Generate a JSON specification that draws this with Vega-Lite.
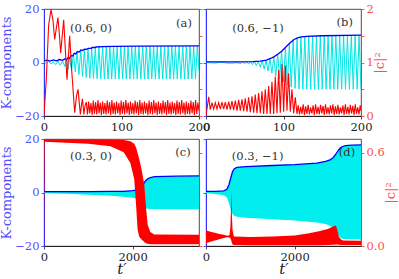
{
"$schema":"https://vega.github.io/schema/vega-lite/v6.json",
"padding":{"left":0,"top":2,"right":1,"bottom":0},
"columns":2,
"spacing":{"row":23,"column":7},
"bounds":"flush",
"datasets":{
"aB":[{"t":0,"v":0.6},{"t":4,"v":0.9},{"t":8,"v":0.5},{"t":12,"v":1.0},{"t":16,"v":0.6},{"t":20,"v":1.1},{"t":24,"v":0.8},{"t":27,"v":1.4},{"t":29,"v":1.0},{"t":31,"v":1.8},{"t":33,"v":1.6},{"t":35,"v":2.6},{"t":37,"v":2.4},{"t":39,"v":3.4},{"t":41,"v":3.2},{"t":43,"v":4.1},{"t":45.5,"v":3.9},{"t":47.5,"v":4.7},{"t":50,"v":4.5},{"t":52,"v":5.0},{"t":55,"v":4.9},{"t":57,"v":5.3},{"t":61,"v":5.3},{"t":62,"v":5.6},{"t":66,"v":5.6},{"t":67,"v":5.8},{"t":75,"v":5.9},{"t":90,"v":6.0},{"t":120,"v":6.1},{"t":200,"v":6.2}],
"aC":[{"t":0,"v":0.2},{"t":3,"v":-0.3},{"t":6,"v":0.4},{"t":9,"v":-0.5},{"t":12,"v":0.3},{"t":15,"v":-0.8},{"t":18,"v":0.5},{"t":21,"v":-1.0},{"t":24,"v":0.6},{"t":27,"v":-1.5},{"t":29,"v":1.0},{"t":31,"v":-2.5},{"t":33,"v":1.8},{"t":35.5,"v":-3.0},{"t":38,"v":3.3},{"t":40.35,"v":-3.5},{"t":42.7,"v":4.0},{"t":45.05,"v":-4.5},{"t":47.4,"v":4.6},{"t":49.75,"v":-5.2},{"t":52.1,"v":4.9},{"t":54.45,"v":-5.6},{"t":56.8,"v":5.2},{"t":59.15,"v":-5.9},{"t":61.5,"v":5.4},{"t":63.85,"v":-6.0},{"t":66.2,"v":5.6},{"t":68.55,"v":-6.1},{"t":70.9,"v":5.8},{"t":73.25,"v":-6.2},{"t":75.6,"v":5.9},{"t":77.95,"v":-6.2},{"t":80.3,"v":5.9},{"t":82.65,"v":-6.2},{"t":85,"v":6.0},{"t":87.35,"v":-6.2},{"t":89.7,"v":6.0},{"t":92.05,"v":-6.2},{"t":94.4,"v":6.0},{"t":96.75,"v":-6.2},{"t":99.1,"v":6.0},{"t":101.45,"v":-6.2},{"t":103.8,"v":6.0},{"t":106.15,"v":-6.2},{"t":108.5,"v":6.0},{"t":110.85,"v":-6.2},{"t":113.2,"v":6.0},{"t":115.55,"v":-6.2},{"t":117.9,"v":6.0},{"t":120.25,"v":-6.2},{"t":122.6,"v":6.1},{"t":124.95,"v":-6.2},{"t":127.3,"v":6.1},{"t":129.65,"v":-6.2},{"t":132,"v":6.1},{"t":134.35,"v":-6.2},{"t":136.7,"v":6.1},{"t":139.05,"v":-6.2},{"t":141.4,"v":6.1},{"t":143.75,"v":-6.2},{"t":146.1,"v":6.1},{"t":148.45,"v":-6.2},{"t":150.8,"v":6.1},{"t":153.15,"v":-6.2},{"t":155.5,"v":6.1},{"t":157.85,"v":-6.2},{"t":160.2,"v":6.1},{"t":162.55,"v":-6.2},{"t":164.9,"v":6.1},{"t":167.25,"v":-6.2},{"t":169.6,"v":6.1},{"t":171.95,"v":-6.2},{"t":174.3,"v":6.1},{"t":176.65,"v":-6.2},{"t":179,"v":6.1},{"t":181.35,"v":-6.2},{"t":183.7,"v":6.1},{"t":186.05,"v":-6.2},{"t":188.4,"v":6.1},{"t":190.75,"v":-6.2},{"t":193.1,"v":6.1},{"t":195.45,"v":-6.2},{"t":197.8,"v":6.1},{"t":200,"v":-3}],
"aR":[{"t":0,"v":0},{"t":3,"v":0.7},{"t":6,"v":1.7},{"t":9,"v":1.99},{"t":11.5,"v":1.8},{"t":13.8,"v":1.43},{"t":16,"v":1.65},{"t":18,"v":1.84},{"t":20,"v":1.5},{"t":21.5,"v":1.18},{"t":23.5,"v":1.5},{"t":25.4,"v":1.8},{"t":27.5,"v":1.25},{"t":29.7,"v":0.68},{"t":31.5,"v":1.1},{"t":33.1,"v":1.5},{"t":36,"v":0.8},{"t":39.6,"v":0.06},{"t":42,"v":0.38},{"t":43.9,"v":0.5},{"t":45.5,"v":0.25},{"t":46.9,"v":0.03},{"t":48.5,"v":0.22},{"t":49.6,"v":0.32},{"t":51.5,"v":0.03},{"t":53,"v":0.2},{"t":54.6,"v":0.26},
{"t":56.1,"v":0.03},{"t":57.6,"v":0.27},{"t":59.1,"v":0.05},{"t":60.6,"v":0.24},{"t":62.1,"v":0.02},{"t":63.6,"v":0.29},{"t":65.1,"v":0.04},{"t":66.6,"v":0.26},{"t":68.1,"v":0.03},{"t":69.6,"v":0.3},{"t":71.1,"v":0.05},{"t":72.6,"v":0.25},{"t":74.1,"v":0.02},{"t":75.6,"v":0.27},{"t":77.1,"v":0.04},{"t":78.6,"v":0.24},{"t":80.1,"v":0.03},{"t":81.6,"v":0.29},{"t":83.1,"v":0.05},{"t":84.6,"v":0.26},{"t":86.1,"v":0.02},{"t":87.6,"v":0.3},{"t":89.1,"v":0.04},{"t":90.6,"v":0.25},{"t":92.1,"v":0.03},{"t":93.6,"v":0.27},{"t":95.1,"v":0.05},{"t":96.6,"v":0.24},{"t":98.1,"v":0.02},{"t":99.6,"v":0.29},{"t":101.1,"v":0.04},{"t":102.6,"v":0.26},{"t":104.1,"v":0.03},{"t":105.6,"v":0.3},{"t":107.1,"v":0.05},{"t":108.6,"v":0.25},{"t":110.1,"v":0.02},{"t":111.6,"v":0.27},{"t":113.1,"v":0.04},{"t":114.6,"v":0.24},{"t":116.1,"v":0.03},{"t":117.6,"v":0.29},{"t":119.1,"v":0.05},{"t":120.6,"v":0.26},{"t":122.1,"v":0.02},{"t":123.6,"v":0.3},{"t":125.1,"v":0.04},{"t":126.6,"v":0.25},{"t":128.1,"v":0.03},{"t":129.6,"v":0.27},{"t":131.1,"v":0.05},{"t":132.6,"v":0.24},{"t":134.1,"v":0.02},{"t":135.6,"v":0.29},{"t":137.1,"v":0.04},{"t":138.6,"v":0.26},{"t":140.1,"v":0.03},{"t":141.6,"v":0.3},{"t":143.1,"v":0.05},{"t":144.6,"v":0.25},{"t":146.1,"v":0.02},{"t":147.6,"v":0.27},{"t":149.1,"v":0.04},{"t":150.6,"v":0.24},{"t":152.1,"v":0.03},{"t":153.6,"v":0.29},{"t":155.1,"v":0.05},{"t":156.6,"v":0.26},{"t":158.1,"v":0.02},{"t":159.6,"v":0.3},{"t":161.1,"v":0.04},{"t":162.6,"v":0.25},{"t":164.1,"v":0.03},{"t":165.6,"v":0.27},{"t":167.1,"v":0.05},{"t":168.6,"v":0.24},{"t":170.1,"v":0.02},{"t":171.6,"v":0.29},{"t":173.1,"v":0.04},{"t":174.6,"v":0.26},{"t":176.1,"v":0.03},{"t":177.6,"v":0.3},{"t":179.1,"v":0.05},{"t":180.6,"v":0.25},{"t":182.1,"v":0.02},{"t":183.6,"v":0.27},{"t":185.1,"v":0.04},{"t":186.6,"v":0.24},{"t":188.1,"v":0.03},{"t":189.6,"v":0.29},{"t":191.1,"v":0.05},{"t":192.6,"v":0.26},{"t":194.1,"v":0.02},{"t":195.6,"v":0.3},{"t":197.1,"v":0.04},{"t":198.6,"v":0.25},{"t":200,"v":0.1}],
"aT":[{"t":180.6,"v":14.4,"s":"(a)"},{"t":60.6,"v":12.5,"s":"(0.6, 0)"}],
"bB":[{"t":0,"v":0.2},{"t":40,"v":0.25},{"t":60,"v":0.35},{"t":70,"v":0.55},{"t":78,"v":0.9},{"t":84,"v":1.6},{"t":88,"v":2.2},{"t":93,"v":3.2},{"t":98,"v":4.3},{"t":103,"v":5.8},{"t":108,"v":7.2},{"t":113,"v":8.5},{"t":118,"v":9.2},{"t":123,"v":9.6},{"t":130,"v":9.8},{"t":150,"v":10.0},{"t":200,"v":10.2}],
"bC":[{"t":0,"v":0},{"t":10,"v":-0.2},{"t":20,"v":0.05},{"t":30,"v":-0.3},{"t":40,"v":-0.1},{"t":45,"v":-0.4},{"t":47.5,"v":0.3},{"t":50,"v":-0.5},{"t":52.5,"v":0.3},{"t":55,"v":-0.6},{"t":57.5,"v":0.3},{"t":60,"v":-0.8},{"t":62.5,"v":0.4},{"t":65,"v":-1.2},{"t":67.5,"v":0.5},{"t":70,"v":-1.8},{"t":72.5,"v":0.65},{"t":75,"v":-2.5},{"t":77.5,"v":0.95},{"t":80,"v":-3.2},{"t":82.5,"v":1.45},{"t":85,"v":-4.0},{"t":87.5,"v":2.1},{"t":90,"v":-5.0},{"t":92.5,"v":3.0},{"t":95,"v":-6.2},{"t":97.5,"v":4.2},{"t":100,"v":-7.3},{"t":102.5,"v":5.5},{"t":105,"v":-8.4},{"t":107.5,"v":6.9},{"t":110,"v":-9.2},{"t":112.5,"v":8.3},{"t":115,"v":-9.7},{"t":117.5,"v":9.1},{"t":120,"v":-9.9},{"t":122.5,"v":9.5},{"t":125,"v":-10},{"t":127.5,"v":9.7},{"t":130,"v":-10},{"t":132.5,"v":9.8},{"t":135,"v":-10},{"t":137.5,"v":9.9},{"t":140,"v":-10},{"t":142.5,"v":9.9},{"t":145,"v":-10},{"t":147.5,"v":10},{"t":150,"v":-10},{"t":152.5,"v":10},{"t":155,"v":-10},{"t":157.5,"v":10},{"t":160,"v":-10},{"t":162.5,"v":10},{"t":165,"v":-10},{"t":167.5,"v":10.1},{"t":170,"v":-10},{"t":172.5,"v":10.1},{"t":175,"v":-10},{"t":177.5,"v":10.1},{"t":180,"v":-10},{"t":182.5,"v":10.1},{"t":185,"v":-10},{"t":187.5,"v":10.1},{"t":190,"v":-10},{"t":192.5,"v":10.1},{"t":195,"v":-10},{"t":197.5,"v":10.1},{"t":200,"v":-10}],
"bR":[{"t":0,"v":0},{"t":3.5,"v":0.36},{"t":5.5,"v":0.12},{"t":7.7,"v":0.25},{"t":9.9,"v":0.13},{"t":12,"v":0.25},{"t":14.2,"v":0.13},{"t":16.3,"v":0.25},{"t":18.5,"v":0.13},{"t":20.6,"v":0.26},{"t":22.8,"v":0.13},{"t":24.9,"v":0.26},{"t":27.1,"v":0.12},{"t":29.2,"v":0.27},{"t":31.4,"v":0.12},{"t":33.5,"v":0.28},{"t":35.7,"v":0.11},{"t":37.8,"v":0.29},{"t":40,"v":0.1},{"t":42.1,"v":0.3},{"t":44.3,"v":0.1},{"t":46.4,"v":0.31},{"t":48.6,"v":0.09},{"t":50.7,"v":0.33},{"t":52.9,"v":0.08},{"t":55,"v":0.35},{"t":57.2,"v":0.07},{"t":59.3,"v":0.37},{"t":61.5,"v":0.06},{"t":63.6,"v":0.4},{"t":65.8,"v":0.05},{"t":67.9,"v":0.43},{"t":70.1,"v":0.05},{"t":72.2,"v":0.46},{"t":74.4,"v":0.04},{"t":76.5,"v":0.5},{"t":78.7,"v":0.04},{"t":80.8,"v":0.56},{"t":83,"v":0.04},{"t":85.1,"v":0.64},{"t":87.3,"v":0.04},{"t":89.4,"v":0.74},{"t":91.6,"v":0.05},{"t":93.7,"v":0.86},{"t":95.9,"v":0.06},{"t":98,"v":0.97},{"t":100.2,"v":0.08},{"t":102.3,"v":0.95},{"t":104.5,"v":0.1},{"t":106.6,"v":0.8},{"t":108.8,"v":0.08},{"t":110.9,"v":0.5},{"t":113.1,"v":0.05},{"t":115.2,"v":0.35},{"t":117.4,"v":0.04},
{"t":119,"v":0.2},{"t":120.6,"v":0.03},{"t":122.2,"v":0.17},{"t":123.8,"v":0.04},{"t":125.4,"v":0.22},{"t":127,"v":0.02},{"t":128.6,"v":0.18},{"t":130.2,"v":0.04},{"t":131.8,"v":0.21},{"t":133.4,"v":0.03},{"t":135,"v":0.16},{"t":136.6,"v":0.05},{"t":138.2,"v":0.2},{"t":139.8,"v":0.02},{"t":141.4,"v":0.22},{"t":143,"v":0.04},{"t":144.6,"v":0.17},{"t":146.2,"v":0.03},{"t":147.8,"v":0.21},{"t":149.4,"v":0.05},{"t":151,"v":0.19},{"t":152.6,"v":0.02},{"t":154.2,"v":0.22},{"t":155.8,"v":0.04},{"t":157.4,"v":0.16},{"t":159,"v":0.03},{"t":160.6,"v":0.2},{"t":162.2,"v":0.05},{"t":163.8,"v":0.22},{"t":165.4,"v":0.02},{"t":167,"v":0.18},{"t":168.6,"v":0.04},{"t":170.2,"v":0.21},{"t":171.8,"v":0.03},{"t":173.4,"v":0.16},{"t":175,"v":0.05},{"t":176.6,"v":0.2},{"t":178.2,"v":0.02},{"t":179.8,"v":0.22},{"t":181.4,"v":0.04},{"t":183,"v":0.17},{"t":184.6,"v":0.03},{"t":186.2,"v":0.21},{"t":187.8,"v":0.05},{"t":189.4,"v":0.19},{"t":191,"v":0.02},{"t":192.6,"v":0.22},{"t":194.2,"v":0.04},{"t":195.8,"v":0.16},{"t":197.4,"v":0.03},{"t":199,"v":0.2},{"t":200,"v":0.1}],
"bT":[{"t":179,"v":14.8,"s":"(b)"},{"t":67,"v":12.5,"s":"(0.6, −1)"}],
"cC":[{"t":0,"lo":-0.3,"hi":0.3},{"t":500,"lo":-0.5,"hi":0.3},{"t":1000,"lo":-0.8,"hi":0.35},{"t":1500,"lo":-1.2,"hi":0.4},{"t":1800,"lo":-1.6,"hi":0.45},{"t":2000,"lo":-2.0,"hi":0.7},{"t":2100,"lo":-2.2,"hi":1.0},{"t":2150,"lo":-3.0,"hi":1.4},{"t":2200,"lo":-4.5,"hi":2.1},{"t":2250,"lo":-5.5,"hi":3.3},{"t":2300,"lo":-6.0,"hi":4.5},{"t":2350,"lo":-6.1,"hi":5.2},{"t":2400,"lo":-6.2,"hi":5.6},{"t":2500,"lo":-6.2,"hi":5.9},{"t":3000,"lo":-6.3,"hi":6.1},{"t":3500,"lo":-6.3,"hi":6.2}],
"cB":[{"t":0,"v":0.3},{"t":1000,"v":0.35},{"t":1500,"v":0.4},{"t":1800,"v":0.45},{"t":2000,"v":0.7},{"t":2100,"v":1.0},{"t":2150,"v":1.4},{"t":2200,"v":2.1},{"t":2250,"v":3.3},{"t":2300,"v":4.5},{"t":2350,"v":5.2},{"t":2400,"v":5.6},{"t":2500,"v":5.9},{"t":3000,"v":6.1},{"t":3500,"v":6.2}],
"cR":[{"t":0,"lo":0,"hi":0.688},{"t":15,"lo":0.673,"hi":0.688},{"t":500,"lo":0.666,"hi":0.688},{"t":1000,"lo":0.659,"hi":0.688},{"t":1500,"lo":0.643,"hi":0.687},{"t":1800,"lo":0.604,"hi":0.684},{"t":1950,"lo":0.535,"hi":0.676},{"t":2038,"lo":0.431,"hi":0.66},{"t":2080,"lo":0.259,"hi":0.633},{"t":2114,"lo":0.104,"hi":0.6},{"t":2150,"lo":0.06,"hi":0.561},{"t":2200,"lo":0.043,"hi":0.5},{"t":2264,"lo":0.026,"hi":0.397},{"t":2300,"lo":0.017,"hi":0.259},{"t":2340,"lo":0.014,"hi":0.138},{"t":2400,"lo":0.012,"hi":0.09},{"t":2490,"lo":0.012,"hi":0.074},{"t":3500,"lo":0.012,"hi":0.072}],
"cT":[{"t":3138,"v":14.7,"s":"(c)"},{"t":1060,"v":13.2,"s":"(0.3, 0)"}],
"dB":[{"t":0,"v":0.4},{"t":200,"v":0.45},{"t":400,"v":0.6},{"t":470,"v":1.2},{"t":520,"v":3.0},{"t":560,"v":5.5},{"t":600,"v":7.8},{"t":640,"v":8.9},{"t":700,"v":9.4},{"t":900,"v":9.7},{"t":1500,"v":10.1},{"t":2000,"v":10.4},{"t":2500,"v":11.0},{"t":2700,"v":11.6},{"t":2800,"v":12.2},{"t":2870,"v":13.0},{"t":2930,"v":14.3},{"t":2980,"v":15.6},{"t":3030,"v":16.6},{"t":3080,"v":17.2},{"t":3150,"v":17.5},{"t":3300,"v":17.7},{"t":3500,"v":17.8}],
"dC":[{"t":0,"lo":-0.3,"hi":0.4},{"t":200,"lo":-0.6,"hi":0.45},{"t":400,"lo":-1.0,"hi":0.6},{"t":470,"lo":-1.8,"hi":1.2},{"t":520,"lo":-4,"hi":3.0},{"t":560,"lo":-6.5,"hi":5.5},{"t":600,"lo":-8.0,"hi":7.8},{"t":640,"lo":-8.7,"hi":8.9},{"t":700,"lo":-9.1,"hi":9.4},{"t":900,"lo":-9.4,"hi":9.7},{"t":1500,"lo":-10.0,"hi":10.1},{"t":2000,"lo":-10.5,"hi":10.4},{"t":2500,"lo":-11.2,"hi":11.0},{"t":2700,"lo":-11.8,"hi":11.6},{"t":2800,"lo":-12.4,"hi":12.2},{"t":2870,"lo":-13.2,"hi":13.0},{"t":2930,"lo":-14.5,"hi":14.3},{"t":2980,"lo":-15.8,"hi":15.6},{"t":3030,"lo":-16.8,"hi":16.6},{"t":3080,"lo":-17.3,"hi":17.2},{"t":3150,"lo":-17.5,"hi":17.5},{"t":3300,"lo":-17.6,"hi":17.7},{"t":3500,"lo":-17.6,"hi":17.8}],
"dR":[{"t":0,"lo":0,"hi":0.1},{"t":10,"lo":0.02,"hi":0.1},{"t":100,"lo":0.028,"hi":0.092},{"t":200,"lo":0.036,"hi":0.085},{"t":300,"lo":0.044,"hi":0.078},{"t":400,"lo":0.051,"hi":0.072},{"t":480,"lo":0.057,"hi":0.066},{"t":530,"lo":0.055,"hi":0.07},{"t":550,"lo":0.05,"hi":0.12},{"t":565,"lo":0.04,"hi":0.24},{"t":575,"lo":0.03,"hi":0.36},{"t":585,"lo":0.02,"hi":0.2},{"t":600,"lo":0.01,"hi":0.1},{"t":630,"lo":0.006,"hi":0.062},{"t":1000,"lo":0.005,"hi":0.058},{"t":1500,"lo":0.005,"hi":0.062},{"t":2000,"lo":0.005,"hi":0.068},{"t":2300,"lo":0.005,"hi":0.08},{"t":2550,"lo":0.005,"hi":0.095},{"t":2750,"lo":0.006,"hi":0.11},{"t":2870,"lo":0.008,"hi":0.125},{"t":2930,"lo":0.01,"hi":0.132},{"t":2960,"lo":0.01,"hi":0.11},{"t":3000,"lo":0.008,"hi":0.06},{"t":3050,"lo":0.007,"hi":0.042},{"t":3100,"lo":0.006,"hi":0.036},{"t":3500,"lo":0.006,"hi":0.034}],
"dT":[{"t":3184,"v":14.7,"s":"(d)"},{"t":1166,"v":13.2,"s":"(0.3, −1)"}]
},
"concat":[
{"width":155,"height":107,"resolve":{"scale":{"y":"independent"}},
 "layer":[
  {"layer":[
   {"data":{"name":"aC"},"mark":{"type":"line","color":"#00e5e5","strokeWidth":1,"clip":true},
    "encoding":{"x":{"field":"t","type":"quantitative","scale":{"domain":[0,200],"nice":false},"axis":{"values":[0,100,200],"title":null,"labelFlush":false}},
     "y":{"field":"v","type":"quantitative","scale":{"domain":[-20,20],"nice":false},"axis":{"values":[-20,-10,0,10,20],"title":"K-components","titleFontSize":13,"titleColor":"#5050ff","labelColor":"#5050ff","domainColor":"#3030ff","tickColor":"#3030ff","titlePadding":1}}}},
   {"data":{"name":"aB"},"mark":{"type":"line","color":"#0000ff","strokeWidth":1.3,"clip":true},
    "encoding":{"x":{"field":"t","type":"quantitative"},"y":{"field":"v","type":"quantitative"}}},
   {"data":{"name":"aT"},"mark":{"type":"text","fontSize":11.5,"color":"#333"},
    "encoding":{"x":{"field":"t","type":"quantitative"},"y":{"field":"v","type":"quantitative"},"text":{"field":"s"}}}
  ]},
  {"data":{"name":"aR"},"mark":{"type":"line","color":"#ff0000","strokeWidth":1.1,"clip":true},
   "encoding":{"x":{"field":"t","type":"quantitative"},"y":{"field":"v","type":"quantitative","scale":{"domain":[0,2],"nice":false},"axis":{"orient":"right","values":[0,0.5,1,1.5,2],"labels":false,"title":null,"domainColor":"#ff3030","tickColor":"#ff3030"}}}}
 ]},
{"width":155,"height":107,"resolve":{"scale":{"y":"independent"}},
 "layer":[
  {"layer":[
   {"data":{"name":"bC"},"mark":{"type":"line","color":"#00e5e5","strokeWidth":1,"clip":true},
    "encoding":{"x":{"field":"t","type":"quantitative","scale":{"domain":[0,200],"nice":false},"axis":{"values":[0,100,200],"title":null,"labelFlush":false}},
     "y":{"field":"v","type":"quantitative","scale":{"domain":[-20,20],"nice":false},"axis":{"values":[-20,-10,0,10,20],"labels":false,"title":null,"domainColor":"#3030ff","tickColor":"#3030ff"}}}},
   {"data":{"name":"bB"},"mark":{"type":"line","color":"#0000ff","strokeWidth":1.3,"clip":true},
    "encoding":{"x":{"field":"t","type":"quantitative"},"y":{"field":"v","type":"quantitative"}}},
   {"data":{"name":"bT"},"mark":{"type":"text","fontSize":11.5,"color":"#333"},
    "encoding":{"x":{"field":"t","type":"quantitative"},"y":{"field":"v","type":"quantitative"},"text":{"field":"s"}}}
  ]},
  {"data":{"name":"bR"},"mark":{"type":"line","color":"#ff0000","strokeWidth":1.1,"clip":true},
   "encoding":{"x":{"field":"t","type":"quantitative"},"y":{"field":"v","type":"quantitative","scale":{"domain":[0,2],"nice":false},"axis":{"orient":"right","values":[0,0.5,1,1.5,2],"labelExpr":"datum.value % 1 == 0 ? format(datum.value, 'd') : ''","title":"|c|²","titleFontSize":13,"titleAngle":270,"titleBaseline":"top","titlePadding":0,"titleColor":"#ff5050","labelColor":"#ff5050","domainColor":"#ff3030","tickColor":"#ff3030"}}}}
 ]},
{"width":155,"height":107,"resolve":{"scale":{"y":"independent"}},
 "layer":[
  {"layer":[
   {"data":{"name":"cC"},"mark":{"type":"area","color":"#00eeee","clip":true},
    "encoding":{"x":{"field":"t","type":"quantitative","scale":{"domain":[0,3500],"nice":false},"axis":{"values":[0,2000],"format":"d","title":"t′","titleFontSize":15,"titleFontStyle":"italic","titleFontWeight":"normal","titlePadding":-1,"labelFlush":false}},
     "y":{"field":"lo","type":"quantitative","scale":{"domain":[-20,20],"nice":false},"axis":{"values":[-20,-10,0,10,20],"title":"K-components","titleFontSize":13,"titleColor":"#5050ff","labelColor":"#5050ff","domainColor":"#3030ff","tickColor":"#3030ff","titlePadding":1}},
     "y2":{"field":"hi"}}},
   {"data":{"name":"cB"},"mark":{"type":"line","color":"#0000ff","strokeWidth":1.3,"clip":true},
    "encoding":{"x":{"field":"t","type":"quantitative"},"y":{"field":"v","type":"quantitative"}}},
   {"data":{"name":"cT"},"mark":{"type":"text","fontSize":11.5,"color":"#333"},
    "encoding":{"x":{"field":"t","type":"quantitative"},"y":{"field":"v","type":"quantitative"},"text":{"field":"s"}}}
  ]},
  {"data":{"name":"cR"},"mark":{"type":"area","color":"#ff0000","clip":true},
   "encoding":{"x":{"field":"t","type":"quantitative"},"y":{"field":"lo","type":"quantitative","scale":{"domain":[0,0.69],"nice":false},"axis":{"orient":"right","values":[0,0.6],"labels":false,"title":null,"domainColor":"#ff3030","tickColor":"#ff3030"}},"y2":{"field":"hi"}}}
 ]},
{"width":155,"height":107,"resolve":{"scale":{"y":"independent"}},
 "layer":[
  {"layer":[
   {"data":{"name":"dC"},"mark":{"type":"area","color":"#00eeee","clip":true},
    "encoding":{"x":{"field":"t","type":"quantitative","scale":{"domain":[0,3500],"nice":false},"axis":{"values":[0,2000],"format":"d","title":"t′","titleFontSize":15,"titleFontStyle":"italic","titleFontWeight":"normal","titlePadding":-1,"labelFlush":false}},
     "y":{"field":"lo","type":"quantitative","scale":{"domain":[-20,20],"nice":false},"axis":{"values":[-20,-10,0,10,20],"labels":false,"title":null,"domainColor":"#3030ff","tickColor":"#3030ff"}},
     "y2":{"field":"hi"}}},
   {"data":{"name":"dB"},"mark":{"type":"line","color":"#0000ff","strokeWidth":1.3,"clip":true},
    "encoding":{"x":{"field":"t","type":"quantitative"},"y":{"field":"v","type":"quantitative"}}},
   {"data":{"name":"dT"},"mark":{"type":"text","fontSize":11.5,"color":"#333"},
    "encoding":{"x":{"field":"t","type":"quantitative"},"y":{"field":"v","type":"quantitative"},"text":{"field":"s"}}}
  ]},
  {"data":{"name":"dR"},"mark":{"type":"area","color":"#ff0000","clip":true},
   "encoding":{"x":{"field":"t","type":"quantitative"},"y":{"field":"lo","type":"quantitative","scale":{"domain":[0,0.69],"nice":false},"axis":{"orient":"right","values":[0,0.6],"format":".1f","title":"|c|²","titleFontSize":13,"titleAngle":270,"titleBaseline":"top","titlePadding":0,"titleColor":"#ff5050","labelColor":"#ff5050","domainColor":"#ff3030","tickColor":"#ff3030"}},"y2":{"field":"hi"}}}
 ]}
],
"config":{
 "font":"DejaVu Serif",
 "view":{"stroke":"#222","strokeWidth":0.8},
 "axis":{"grid":false,"labelFont":"DejaVu Serif","titleFont":"DejaVu Serif","labelFontSize":11.5,"titleFontWeight":"normal","tickSize":3,"labelPadding":2,"domainWidth":1,"tickWidth":0.8,"labelColor":"#222","domainColor":"#222","tickColor":"#222","titleColor":"#222"},
 "text":{"font":"DejaVu Serif"}
}
}
